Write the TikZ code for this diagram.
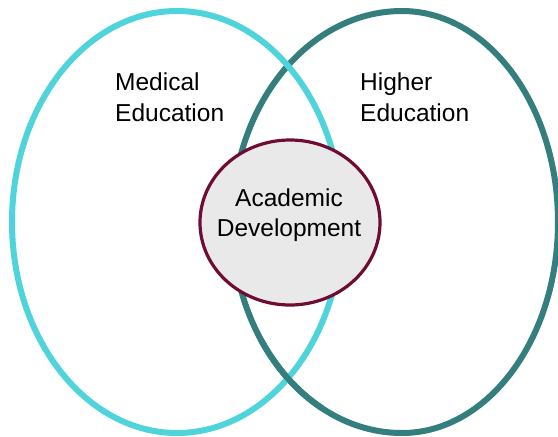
\documentclass[tikz,border=0pt]{standalone}
\usepackage{fontspec}
\setmainfont{Liberation Sans}
\usetikzlibrary{shapes.geometric}
\definecolor{medcyan}{RGB}{80,212,219}
\definecolor{hiteal}{RGB}{52,126,126}
\definecolor{admaroon}{RGB}{110,12,52}
\definecolor{adgray}{RGB}{233,233,233}
\tikzset{
  medring/.style={draw=medcyan, line width=6pt},
  hiring/.style={draw=hiteal, line width=6pt},
  acad/.style={ellipse, draw=admaroon, fill=adgray, line width=3.2pt,
               minimum width=180pt, minimum height=165pt, inner sep=0pt},
  lbl/.style={inner sep=0pt, text=black},
}
\begin{document}
\begin{tikzpicture}[x=1pt, y=-1pt]
\useasboundingbox (0,0) rectangle (558,437);
\fill[white] (0,0) rectangle (558,437);
\clip (0,0) rectangle (558,437);
% centres
\coordinate (mc) at (177,222);
\coordinate (hc) at (402,222);
% Higher Education ring (slightly wider on its left half)
\draw[hiring] ([shift={(hc)}]-90:156 and 211)
   arc[start angle=-90, end angle=90, x radius=156, y radius=211]
   arc[start angle=90, end angle=270, x radius=170, y radius=211] -- cycle;
% Medical Education ring
\draw[medring] (mc) ellipse[x radius=165, y radius=211];
% teal over cyan at the lower crossing
\draw[hiring] ([shift={(hc)}]118:170 and 211)
   arc[start angle=118, end angle=146, x radius=170, y radius=211];
% labels
\node[lbl, anchor=north west, align=left,
      font=\fontsize{24.5}{31}\selectfont] (med) at (115,72.5) {Medical\\Education};
\node[lbl, anchor=north west, align=left,
      font=\fontsize{24.5}{31}\selectfont] (hig) at (360,72.5) {Higher\\Education};
% Academic Development
\node[acad] (ad) at (290,222.5) {};
\node[lbl, align=center, font=\fontsize{24.5}{30}\selectfont] (adt) at (289,215.5) {Academic\\Development};
\end{tikzpicture}
\end{document}
